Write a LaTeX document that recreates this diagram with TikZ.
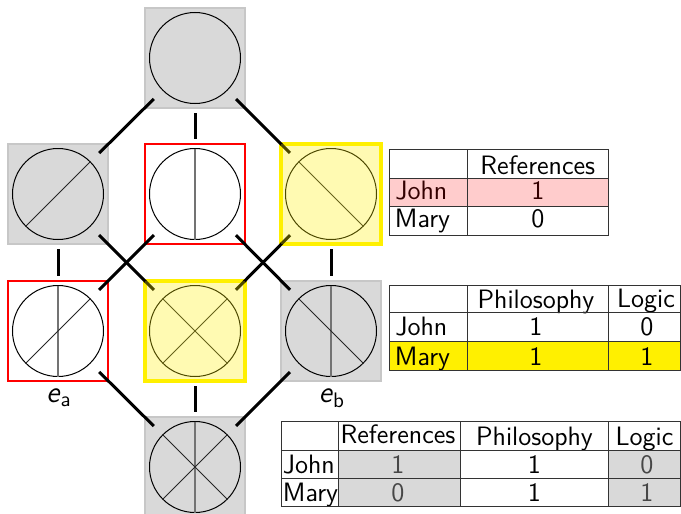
\documentclass[tikz,border=0pt]{standalone}
\usetikzlibrary{calc}
\definecolor{ylw}{RGB}{255,240,0}
\begin{document}
\begin{tikzpicture}[x=0.5pt,y=-0.5pt,
  font=\fontsize{13.3}{16}\selectfont\sffamily,
  lat/.style={rectangle, minimum size=50pt, inner sep=0pt, outer sep=0pt},
  graysq/.style={lat, fill=black!15, draw=black!22, line width=0.6pt},
  redsq/.style={lat, fill=white, draw=red, line width=1pt},
  yelsq/.style={lat, fill=white, draw=ylw, line width=1.8pt},
  ring/.style={draw=black, line width=0.5pt},
  vln/.style={draw=black!55, line width=0.7pt},
  dln/.style={draw=black!85, line width=0.5pt},
  diag/.style={line width=1.5pt, black, shorten <=29pt, shorten >=29pt},
  vert/.style={line width=1.5pt, black, shorten <=27.5pt, shorten >=27.5pt},
  tline/.style={draw=black!80, line width=0.5pt},
  txt/.style={anchor=base, inner sep=0pt},
  txtl/.style={anchor=base west, inner sep=0pt},
  dim/.style={txt, text=black!72},
  lbl/.style={inner sep=0pt, font=\fontsize{15}{18}\selectfont\sffamily}
]
\useasboundingbox (0,0) rectangle (681,514);

% lattice squares
\node[graysq] (top) at (195,58) {};
\node[graysq] (l2) at (58,194) {};
\node[redsq] (m2) at (195,194) {};
\node[yelsq] (r2) at (331,194) {};
\node[redsq] (l3) at (58,331) {};
\node[yelsq] (m3) at (195,331) {};
\node[graysq] (r3) at (331,331) {};
\node[graysq] (bot) at (195,467) {};

% circles
\foreach \n in {top,l2,m2,r2,l3,m3,r3,bot}
  \draw[ring] (\n.center) circle[radius=22.75pt];
% vertical partitions
\foreach \n in {m2,l3,r3,bot}
  \draw[vln] ($(\n.center)+(90:22.75pt)$) -- ($(\n.center)+(270:22.75pt)$);
% rising diagonals
\foreach \n in {l2,l3,m3,bot}
  \draw[dln] ($(\n.center)+(45:22.75pt)$) -- ($(\n.center)+(225:22.75pt)$);
% falling diagonals
\foreach \n in {r2,m3,r3,bot}
  \draw[dln] ($(\n.center)+(135:22.75pt)$) -- ($(\n.center)+(315:22.75pt)$);

% edges
\draw[diag] (top.center) -- (l2.center);
\draw[vert] (top.center) -- (m2.center);
\draw[diag] (top.center) -- (r2.center);
\draw[vert] (l2.center) -- (l3.center);
\draw[diag] (l2.center) -- (m3.center);
\draw[diag] (m2.center) -- (l3.center);
\draw[diag] (m2.center) -- (r3.center);
\draw[diag] (r2.center) -- (m3.center);
\draw[vert] (r2.center) -- (r3.center);
\draw[diag] (l3.center) -- (bot.center);
\draw[vert] (m3.center) -- (bot.center);
\draw[diag] (r3.center) -- (bot.center);

% yellow overlays
\fill[ylw, fill opacity=0.3] (r2.north west) rectangle (r2.south east);
\fill[ylw, fill opacity=0.3] (m3.north west) rectangle (m3.south east);

% labels
\node[lbl] (ea) at (59,398) {\itshape e\/\upshape\textsubscript{a}};
\node[lbl] (eb) at (332,398) {\itshape e\/\upshape\textsubscript{b}};

% ---------- table 1 ----------
\node[txt] (t1h) at (537.8,174.5) {References};
\node[txtl] (t1j) at (395,199.5) {John};
\node[txt] (t1j1) at (537.8,199.5) {1};
\node[txtl] (t1m) at (394.5,227) {Mary};
\node[txt] (t1m1) at (537.8,227) {0};
\fill[red, fill opacity=0.2] (389.5,178.3) rectangle (608.3,206);
\draw[tline] (389.5,149.3) rectangle (608.3,235.3);
\draw[tline] (389.5,178.3) -- (608.3,178.3) (389.5,206) -- (608.3,206);
\draw[tline] (467.3,149.3) -- (467.3,235.3);

% ---------- table 2 ----------
\fill[ylw] (389.5,341.7) rectangle (680,370.7);
\node[txt] (t2h1) at (536,308.3) {Philosophy};
\node[txt] (t2h2) at (646,307.8) {Logic};
\node[txtl] (t2j) at (395,335) {John};
\node[txt] (t2j1) at (536,335) {1};
\node[txt] (t2j2) at (647,335) {0};
\node[txtl] (t2m) at (394.5,365) {Mary};
\node[txt] (t2m1) at (536,365) {1};
\node[txt] (t2m2) at (647,365) {1};
\draw[tline] (389.5,285) rectangle (680,370.7);
\draw[tline] (389.5,312.7) -- (680,312.7) (389.5,341.7) -- (680,341.7);
\draw[tline] (467.3,285) -- (467.3,370.7) (608.3,285) -- (608.3,370.7);

% ---------- table 3 ----------
\fill[black!15] (338.3,450) rectangle (460,506.7);
\fill[black!15] (608.3,450) rectangle (680,506.7);
\node[txt] (t3h1) at (398,443.5) {References};
\node[txt] (t3h2) at (534.5,445) {Philosophy};
\node[txt] (t3h3) at (644.5,445) {Logic};
\node[txtl] (t3j) at (282.5,473.3) {John};
\node[dim] (t3j1) at (398,473.3) {1};
\node[txt] (t3j2) at (534.5,473.3) {1};
\node[dim] (t3j3) at (647,473.3) {0};
\node[txtl] (t3m) at (282.5,501.7) {Mary};
\node[dim] (t3m1) at (398,501.7) {0};
\node[txt] (t3m2) at (534.5,501.7) {1};
\node[dim] (t3m3) at (647,501.7) {1};
\draw[tline] (281.7,421.7) rectangle (680,506.7);
\draw[tline] (281.7,450) -- (680,450) (281.7,478.3) -- (680,478.3);
\draw[tline] (338.3,421.7) -- (338.3,506.7) (460,421.7) -- (460,506.7) (608.3,421.7) -- (608.3,506.7);
\end{tikzpicture}
\end{document}
